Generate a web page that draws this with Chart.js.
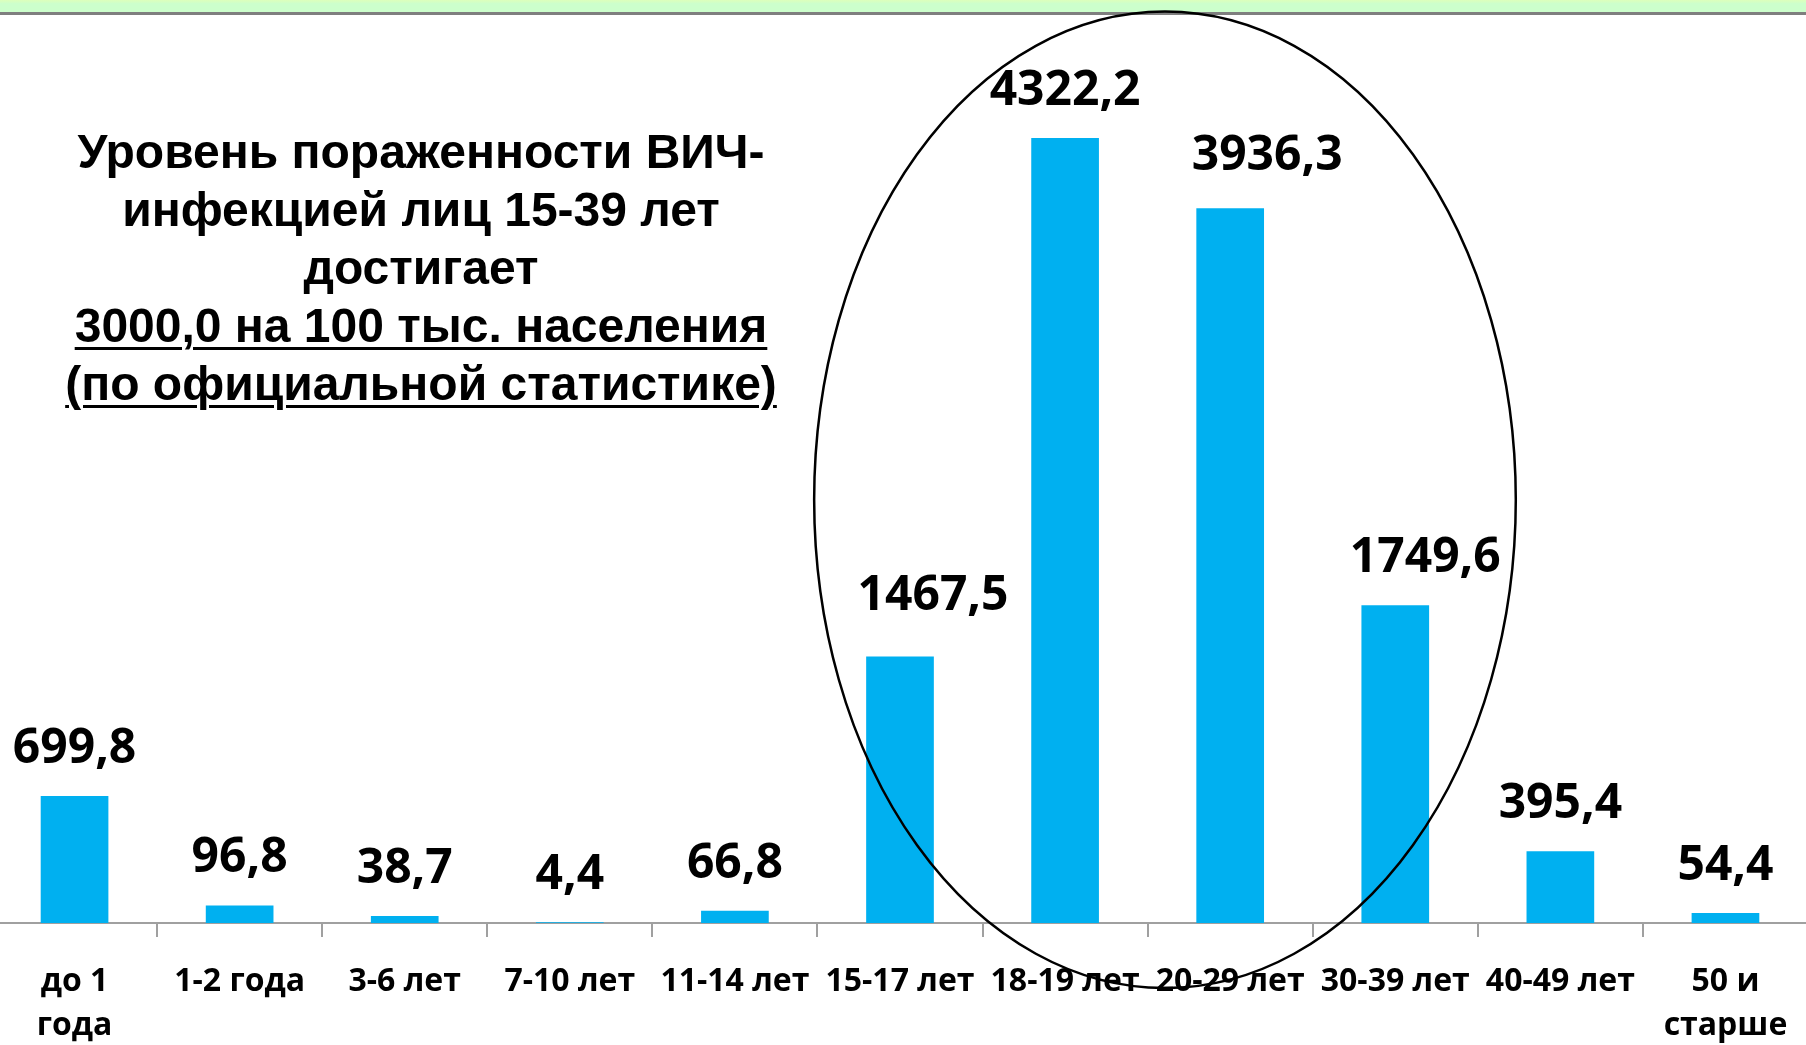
<!DOCTYPE html>
<html lang="ru">
<head>
<meta charset="utf-8">
<title>Уровень пораженности ВИЧ-инфекцией</title>
<script src="https://cdn.jsdelivr.net/npm/chart.js@4.4.1/dist/chart.umd.min.js"></script>
<style>
  html, body { margin: 0; padding: 0; background: #fff; overflow: hidden; }
  body { width: 1806px; height: 1045px; position: relative; }
  .band { position: absolute; left: 0; top: 0; width: 1806px; height: 12px; background: linear-gradient(#ddffbb, #ccffcc 30%); border-bottom: 3px solid #7f7f7f; }
  #wrap { position: absolute; left: -8px; top: 0; width: 1816px; height: 1045px; }
  .title { position: absolute; left: 21px; top: 123px; width: 800px; text-align: center; font: bold 48px "Liberation Sans", Arial, sans-serif; line-height: 58px; color: #000; }
  .title u { text-decoration-thickness: 3px; text-underline-offset: 5px; }
</style>
</head>
<body>
<div class="band"></div>
<div id="wrap"><canvas id="chart" width="1816" height="1045"></canvas></div>
<div class="title">Уровень пораженности ВИЧ-<br>инфекцией лиц 15-39 лет<br>достигает<br><u>3000,0 на 100 тыс. населения</u><br><u>(по официальной статистике)</u></div>
<script>
(function() {
  'use strict';

  // age groups (multi-line where the slide wraps them)
  var ageGroups = [['до 1', 'года'], '1-2 года', '3-6 лет', '7-10 лет', '11-14 лет', '15-17 лет',
    '18-19 лет', '20-29 лет', '30-39 лет', '40-49 лет', ['50 и', 'старше']];
  // HIV prevalence per 100 000 population
  var prevalence = [699.8, 96.8, 38.7, 4.4, 66.8, 1467.5, 4322.2, 3936.3, 1749.6, 395.4, 54.4];
  var yMin = 0;
  var yMax = 5000;

  // hand-moved value labels on the slide: [dx, dy] in px
  var labelNudge = [[0, 0], [0, 0], [0, 0], [0, 0], [0, 0], [33, -14], [0, 0], [37, -5], [30, 0], [0, 0], [0, 0]];
  // ellipse around 15-39 age groups, in scale units (category index / value)
  var ring = { left: 4.48, right: 8.73, top: 5019, bottom: -358 };

  var barColor = '#00b0f0';
  var valueFont = 'bold 48px "Open Sans", "DejaVu Sans", sans-serif';
  var tickFont = 'bold 32px "Open Sans", "DejaVu Sans", sans-serif';

  function formatValue(v) {
    return v.toFixed(1).replace('.', ',');
  }

  var slideDecor = {
    id: 'slideDecor',
    afterDraw: function(chart) {
      var ctx = chart.ctx;
      var x = chart.scales.x;
      var y = chart.scales.y;
      var bars = chart.getDatasetMeta(0).data;

      ctx.save();
      ctx.fillStyle = '#000';
      ctx.textAlign = 'center';
      ctx.textBaseline = 'alphabetic';

      // value labels above bars
      ctx.font = valueFont;
      bars.forEach(function(bar, i) {
        var n = labelNudge[i] || [0, 0];
        ctx.fillText(formatValue(prevalence[i]), bar.x + n[0], bar.y - 33 + n[1]);
      });

      // category labels under the axis
      ctx.font = tickFont;
      ageGroups.forEach(function(label, i) {
        var lines = Array.isArray(label) ? label : [label];
        var px = x.getPixelForValue(i);
        lines.forEach(function(line, j) {
          ctx.fillText(line, px, chart.chartArea.bottom + 68 + j * 44);
        });
      });

      // the ellipse
      var l = x.getPixelForValue(ring.left);
      var r = x.getPixelForValue(ring.right);
      var t = y.getPixelForValue(ring.top);
      var b = y.getPixelForValue(ring.bottom);
      ctx.beginPath();
      ctx.ellipse((l + r) / 2, (t + b) / 2, (r - l) / 2, (b - t) / 2, 0, 0, Math.PI * 2);
      ctx.lineWidth = 2.5;
      ctx.strokeStyle = '#000';
      ctx.stroke();
      ctx.restore();
    }
  };

  new Chart(document.getElementById('chart'), {
    type: 'bar',
    data: {
      labels: ageGroups,
      datasets: [{
        data: prevalence,
        backgroundColor: barColor,
        borderWidth: 0,
        categoryPercentage: 1,
        barPercentage: 0.41
      }]
    },
    options: {
      responsive: false,
      devicePixelRatio: 1,
      animation: false,
      layout: { padding: { top: 15, left: 0, right: 0, bottom: 0 } },
      plugins: { legend: { display: false }, tooltip: { enabled: false } },
      scales: {
        x: {
          afterFit: function(scale) { scale.height = 122; },
          ticks: { display: false },
          grid: { offset: true, drawOnChartArea: false, drawTicks: true, tickLength: 14, color: '#a0a0a0', lineWidth: 2 },
          border: { display: true, color: '#a0a0a0', width: 2 }
        },
        y: { display: false, min: yMin, max: yMax }
      }
    },
    plugins: [slideDecor]
  });
})();
</script>
</body>
</html>
